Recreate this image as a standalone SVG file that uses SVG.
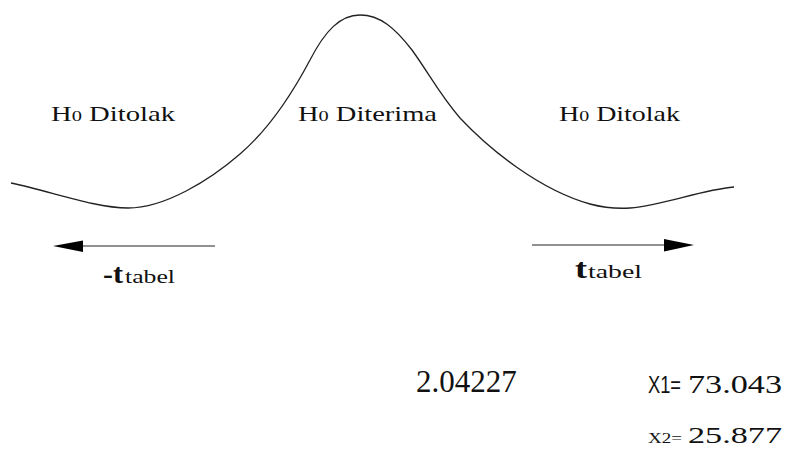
<svg xmlns="http://www.w3.org/2000/svg" width="789" height="464" viewBox="0 0 789 464">
<style>
.serif{font-family:'Liberation Serif','Times New Roman',serif;fill:#111}
.sans{font-family:'Liberation Sans',Arial,sans-serif;fill:#111}
.curve{fill:none;stroke:#222;stroke-width:1.3}
.arrow{stroke:#222;stroke-width:1}
.head{fill:#000}
</style>
<rect width="789" height="464" fill="#fff"/>
<g id="curve">
<path class="curve" d="M11,183 C50,191 95,208 128,208 C165,208 210,180 240,154 C268,130 292,94 310,60 C325,31 340,15 360,15 C380,15 395,28 412,50 C430,75 440,95 460,118 C490,150 540,190 590,204 C605,208 615,209 630,208 C665,205 700,190 734,187"/>
</g>
<g id="label-left">
<text class="serif" x="51" y="121" font-size="21" textLength="124" lengthAdjust="spacingAndGlyphs">H<tspan font-size="15">0</tspan> Ditolak</text>
</g>
<g id="label-mid">
<text class="serif" x="298" y="121" font-size="21" textLength="139" lengthAdjust="spacingAndGlyphs">H<tspan font-size="15">0</tspan> Diterima</text>
</g>
<g id="label-right">
<text class="serif" x="559" y="121" font-size="21" textLength="121" lengthAdjust="spacingAndGlyphs">H<tspan font-size="15">0</tspan> Ditolak</text>
</g>
<g id="connectors">
<line class="arrow" x1="80" y1="246" x2="215" y2="246"/>
<polygon class="head" points="53,246 83,240.5 83,252"/>
<line class="arrow" x1="532" y1="245" x2="667" y2="245"/>
<polygon class="head" points="694,245 664,239 664,251.5"/>
</g>
<g id="t-left">
<text class="serif" x="103" y="283" font-size="28" font-weight="bold" textLength="20" lengthAdjust="spacingAndGlyphs">-t</text>
<text class="serif" x="125" y="283" font-size="19" textLength="50" lengthAdjust="spacingAndGlyphs">tabel</text>
</g>
<g id="t-right">
<text class="serif" x="575" y="278" font-size="28" font-weight="bold" textLength="12" lengthAdjust="spacingAndGlyphs">t</text>
<text class="serif" x="588" y="278" font-size="19" textLength="54" lengthAdjust="spacingAndGlyphs">tabel</text>
</g>
<g id="values">
<text class="serif" x="416" y="392" font-size="31">2.04227</text>
<text class="sans" x="648" y="393" font-size="23" textLength="33" lengthAdjust="spacingAndGlyphs">X1=</text>
<text class="serif" x="688" y="393" font-size="26" textLength="94" lengthAdjust="spacingAndGlyphs">73.043</text>
<text class="serif" x="648" y="443" font-size="15" textLength="34" lengthAdjust="spacingAndGlyphs">X2=</text>
<text class="serif" x="688" y="443" font-size="24" textLength="94" lengthAdjust="spacingAndGlyphs">25.877</text>
</g>
</svg>
